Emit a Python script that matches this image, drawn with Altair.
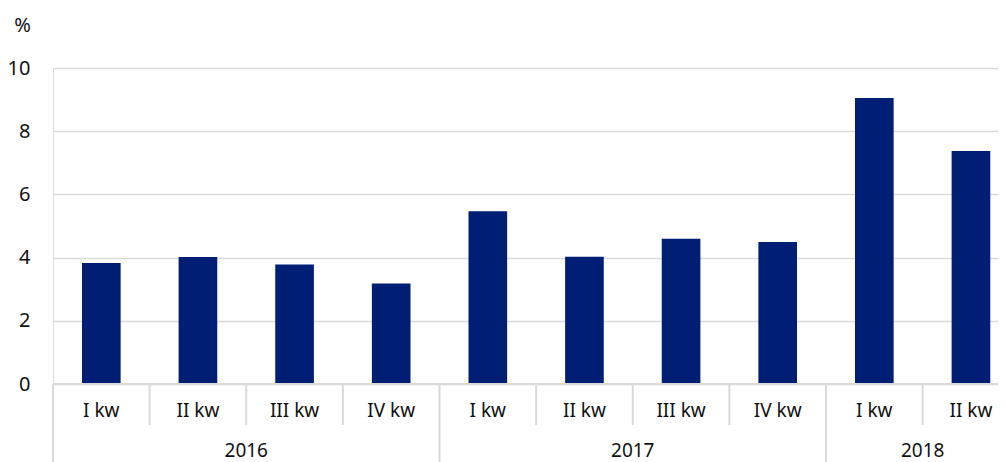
import altair as alt
import pandas as pd

quarters = ["I kw", "II kw", "III kw", "IV kw", "I kw", "II kw", "III kw", "IV kw", "I kw", "II kw"]
values = [3.83, 4.02, 3.78, 3.18, 5.47, 4.03, 4.60, 4.49, 9.05, 7.37]
years = ["2016", "2017", "2018"]
year_counts = [4, 4, 2]
y_ticks = [0, 2, 4, 6, 8, 10]

FONT = "Noto Sans"
BAR = "#001E73"
GRID = "#d9d9d9"
TEXT = "#111111"

n = len(quarters)
bars = pd.DataFrame({
    "q": quarters,
    "value": values,
    "base": [0] * n,
    "x0": [i + 0.3 for i in range(n)],
    "x1": [i + 0.7 for i in range(n)],
    "mid": [i + 0.5 for i in range(n)],
})

starts = []
s = 0
for c in year_counts:
    starts.append(s)
    s += c
year_df = pd.DataFrame({
    "year": years,
    "mid": [st + c / 2 for st, c in zip(starts, year_counts)],
})
year_bounds = pd.DataFrame({"pos": starts + [s]})
q_bounds = pd.DataFrame({"pos": [i for i in range(1, n) if i not in starts]})

PLOT_H = 316
xscale = alt.Scale(domain=[0, 9.78], nice=False, zero=False, padding=0)
yscale = alt.Scale(domain=[0, 10], nice=False, padding=0)

bar_layer = alt.Chart(bars).mark_bar(color=BAR).encode(
    x=alt.X("x0:Q", scale=xscale, axis=None),
    x2="x1:Q",
    y=alt.Y(
        "value:Q",
        scale=yscale,
        axis=alt.Axis(
            values=y_ticks,
            title="%",
            titleAngle=0,
            titleX=-31,
            titleY=-43,
            titleAlign="center",
            titleBaseline="middle",
            titleFont=FONT,
            titleFontSize=20,
            titleFontWeight="normal",
            titleColor=TEXT,
            labelFont=FONT,
            labelFontSize=20,
            labelColor=TEXT,
            labelPadding=23,
            ticks=False,
            domain=False,
            grid=True,
            gridColor=GRID,
            gridWidth=1.5,
        ),
    ),
    y2="base:Q",
)

q_text = alt.Chart(bars).mark_text(
    font=FONT, fontSize=19, color=TEXT, baseline="middle", align="center"
).encode(
    x=alt.X("mid:Q", scale=xscale),
    y=alt.value(PLOT_H + 27),
    text="q:N",
)

y_text = alt.Chart(year_df).mark_text(
    font=FONT, fontSize=19, color=TEXT, baseline="middle", align="center"
).encode(
    x=alt.X("mid:Q", scale=xscale),
    y=alt.value(PLOT_H + 67),
    text="year:N",
)

q_sep = alt.Chart(q_bounds).mark_rule(color=GRID, strokeWidth=2).encode(
    x=alt.X("pos:Q", scale=xscale),
    y=alt.value(PLOT_H),
    y2=alt.value(PLOT_H + 41),
)

y_sep = alt.Chart(year_bounds).mark_rule(color=GRID, strokeWidth=2).encode(
    x=alt.X("pos:Q", scale=xscale),
    y=alt.value(PLOT_H),
    y2=alt.value(PLOT_H + 80),
)

base_line = alt.Chart(pd.DataFrame({"a": [0]})).mark_rule(color=GRID, strokeWidth=2).encode(
    x=alt.value(0),
    x2=alt.value(945),
    y=alt.Y("a:Q", scale=yscale),
)

chart = alt.layer(bar_layer, q_sep, y_sep, base_line, q_text, y_text).properties(
    width=945,
    height=PLOT_H,
    autosize=alt.AutoSizeParams(type="none"),
    padding={"left": 45, "top": 60, "right": 0, "bottom": 78},
).configure_view(stroke=None).configure(background="white")

chart.save("out.html", embed_options={"renderer": "svg", "actions": False})
